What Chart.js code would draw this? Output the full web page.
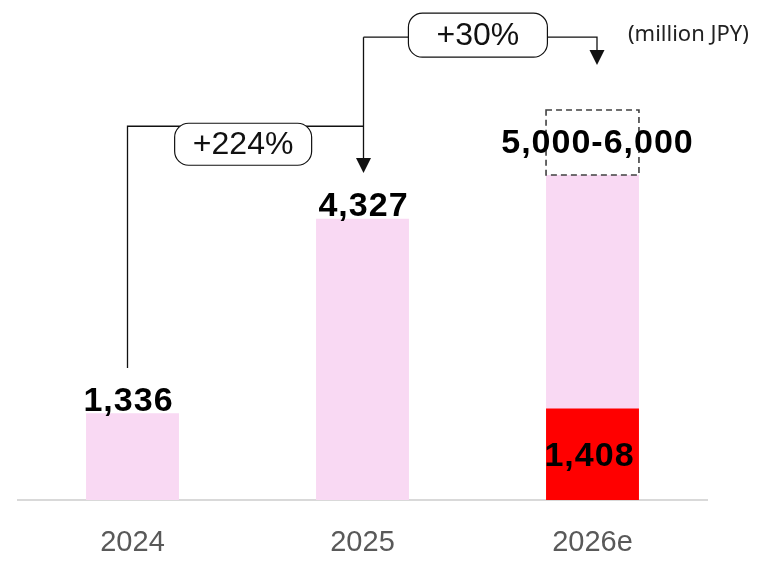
<!DOCTYPE html>
<html>
<head>
<meta charset="utf-8">
<script src="https://cdn.jsdelivr.net/npm/chart.js@4.4.1/dist/chart.umd.min.js"></script>
<style>
  html, body { margin: 0; padding: 0; background: #ffffff; }
  #wrap { width: 768px; height: 563px; position: relative; }
  canvas { display: block; }
</style>
</head>
<body>
<div id="wrap"><canvas id="c" width="768" height="563" style="width:768px;height:563px"></canvas></div>
<script>
// ---- data ----
const categories = ['2024', '2025', '2026e'];
const actualSales = [1336, 4327, null];
const forecastSecured = [null, null, 1408];
const forecastLow = [null, null, 5000];
const forecastHigh = [null, null, 6000];
const valueLabels = ['1,336', '4,327', '5,000-6,000'];
const securedLabels = [null, null, '1,408'];
const growthLabels = ['+224%', '+30%'];
const unitLabel = '(million JPY)';

// derived series for the library
const baseBars = categories.map((_, i) => actualSales[i] != null ? actualSales[i] : forecastLow[i]);
const rangeBars = categories.map((_, i) => forecastLow[i] != null ? [forecastLow[i], forecastHigh[i]] : null);

const FONT = '"Liberation Sans", Arial, Helvetica, sans-serif';

const annotations = {
  id: 'annotations',
  afterDatasetsDraw(chart, args, opts) {
    const ctx = chart.ctx;
    const y = chart.scales.y;
    const baseMeta = chart.getDatasetMeta(1);
    const rangeMeta = chart.getDatasetMeta(2);
    const redMeta = chart.getDatasetMeta(0);
    ctx.save();

    // dashed range box
    rangeMeta.data.forEach((el, i) => {
      if (rangeBars[i] == null) return;
      const top = y.getPixelForValue(forecastHigh[i]);
      const bot = y.getPixelForValue(forecastLow[i]);
      const w = el.width;
      ctx.setLineDash([6, 4]);
      ctx.strokeStyle = '#404040';
      ctx.lineWidth = 1.6;
      ctx.strokeRect(el.x - w / 2, top, w, bot - top);
      ctx.setLineDash([]);
    });

    // value labels
    ctx.fillStyle = '#000000';
    ctx.font = 'bold 34px ' + FONT;
    try { ctx.letterSpacing = '1px'; } catch (e) {}
    ctx.textAlign = 'center';
    ctx.textBaseline = 'alphabetic';
    baseMeta.data.forEach((el, i) => {
      const x = el.x + opts.labelDx[i];
      if (actualSales[i] != null) {
        ctx.fillText(valueLabels[i], x, el.y - 2.5);
      } else {
        const top = y.getPixelForValue(forecastHigh[i]);
        const bot = y.getPixelForValue(forecastLow[i]);
        ctx.fillText(valueLabels[i], x, (top + bot) / 2 + 11);
      }
    });
    redMeta.data.forEach((el, i) => {
      if (securedLabels[i] == null) return;
      ctx.fillText(securedLabels[i], el.x + opts.securedDx, (el.y + el.base) / 2 + 12);
    });
    try { ctx.letterSpacing = '0px'; } catch (e) {}

    // connectors
    ctx.strokeStyle = '#111111';
    ctx.fillStyle = '#111111';
    ctx.lineWidth = 1.3;
    const xs = baseMeta.data.map((el, i) => el.x + opts.lineDx[i]);
    const startY = y.getPixelForValue(opts.startValue);
    const lvl1 = y.getPixelForValue(opts.levels[0]);
    const lvl2 = y.getPixelForValue(opts.levels[1]);
    const tip1 = y.getPixelForValue(opts.tips[0]);
    const tip2 = y.getPixelForValue(opts.tips[1]);
    const ah = 15, aw = 15;
    ctx.beginPath();
    ctx.moveTo(xs[0], startY); ctx.lineTo(xs[0], lvl1); ctx.lineTo(xs[1], lvl1);
    ctx.moveTo(xs[1], lvl2); ctx.lineTo(xs[1], tip1 - ah + 1);
    ctx.moveTo(xs[1], lvl2); ctx.lineTo(xs[2], lvl2); ctx.lineTo(xs[2], tip2 - ah + 1);
    ctx.stroke();
    [[xs[1], tip1], [xs[2], tip2]].forEach(([ax, ay]) => {
      ctx.beginPath();
      ctx.moveTo(ax - aw / 2, ay - ah);
      ctx.lineTo(ax + aw / 2, ay - ah);
      ctx.lineTo(ax, ay);
      ctx.closePath();
      ctx.fill();
    });

    // growth boxes
    const boxes = [
      { x0: xs[0], x1: xs[1], ly: lvl1, dy: opts.boxDy[0], w: 137, h: 42 },
      { x0: xs[1], x1: xs[2], ly: lvl2, dy: opts.boxDy[1], w: 139, h: 44 }
    ];
    ctx.font = '32px ' + FONT;
    ctx.textBaseline = 'middle';
    boxes.forEach((b, i) => {
      const cx = b.x0 + (b.x1 - b.x0) * 0.49;
      const cy = b.ly + b.dy;
      ctx.beginPath();
      ctx.roundRect(cx - b.w / 2, cy - b.h / 2, b.w, b.h, 14);
      ctx.fillStyle = '#ffffff';
      ctx.fill();
      ctx.lineWidth = 1.2;
      ctx.strokeStyle = '#111111';
      ctx.stroke();
      ctx.fillStyle = '#111111';
      ctx.fillText(growthLabels[i], cx, cy + 1);
    });

    // unit label
    ctx.font = '22px "Noto Sans", "DejaVu Sans", sans-serif';
    ctx.fillStyle = '#222222';
    ctx.textAlign = 'left';
    ctx.textBaseline = 'middle';
    ctx.fillText(unitLabel, 628, 35);

    ctx.restore();
  }
};

new Chart(document.getElementById('c'), {
  type: 'bar',
  data: {
    labels: categories,
    datasets: [
      { label: 'Secured', data: forecastSecured, backgroundColor: '#FF0000', order: 0 },
      { label: 'Sales', data: baseBars, backgroundColor: '#F9D9F3', order: 1 },
      { label: 'Range', data: rangeBars, backgroundColor: 'rgba(0,0,0,0)', order: 2 }
    ]
  },
  options: {
    responsive: false,
    maintainAspectRatio: false,
    animation: false,
    devicePixelRatio: 1,
    layout: { padding: { left: 17.5, right: 60.5, top: 10, bottom: 4 } },
    datasets: { bar: { grouped: false, categoryPercentage: 1, barPercentage: 0.404, borderWidth: 0 } },
    plugins: {
      legend: { display: false },
      tooltip: { enabled: false },
      annotations: {
        labelDx: [-4, 1, 5],
        securedDx: -3,
        lineDx: [-5, 1, 4.5],
        startValue: 2031,
        levels: [5750, 7120],
        tips: [5030, 6690],
        boxDy: [18, -2]
      }
    },
    scales: {
      x: {
        grid: { display: false, drawTicks: false },
        border: { display: true, color: '#D9D9D9', width: 2 },
        ticks: { color: '#595959', font: { family: FONT, size: 29 }, padding: 26, maxRotation: 0, minRotation: 0, autoSkip: false },
        afterFit: (scale) => { scale.height = 59; }
      },
      y: { display: false, min: 0, max: 7538 }
    }
  },
  plugins: [annotations]
});
</script>
</body>
</html>
